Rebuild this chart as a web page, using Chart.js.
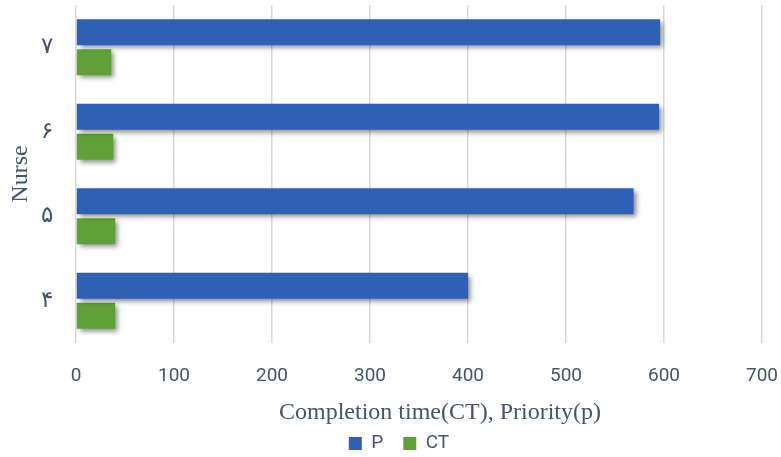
<!DOCTYPE html>
<html>
<head>
<meta charset="utf-8">
<script src="https://cdn.jsdelivr.net/npm/chart.js@4.4.1/dist/chart.umd.min.js"></script>
<style>
  body { margin: 0; background: #fff; }
  #wrap { width: 781px; height: 457px; position: relative; }
</style>
</head>
<body>
<div id="wrap"><canvas id="myChart"></canvas></div>
<script>
// datos (de arriba hacia abajo)
const nurses = ["۷", "۶", "۵", "۴"];
const priorityP = [596, 595, 569, 400];
const completionCT = [36, 38, 40, 40];
const xTicks = [0, 100, 200, 300, 400, 500, 600, 700];

const textColor = "#44546a";
const sans = "'Roboto', 'Liberation Sans', sans-serif";
const serif = "'Liberation Serif', 'DejaVu Serif', serif";

// sombra debajo de las barras
const barShadow = {
  id: "barShadow",
  beforeDatasetsDraw(chart) {
    const ctx = chart.ctx;
    ctx.save();
    ctx.shadowColor = "rgba(0,0,0,0.45)";
    ctx.shadowBlur = 5;
    ctx.shadowOffsetX = 3;
    ctx.shadowOffsetY = 3;
  },
  afterDatasetsDraw(chart) {
    chart.ctx.restore();
  },
};

// alto fijo de la leyenda y pequeños desplazamientos como en el original
const legendTweak = {
  id: "legendTweak",
  beforeInit(chart) {
    const legend = chart.legend;
    const origFit = legend.fit;
    legend.fit = function () {
      origFit.bind(legend)();
      this.height = 41;
    };
    const origDraw = legend.draw;
    legend.draw = function () {
      chart.ctx.save();
      chart.ctx.translate(18, 0);
      origDraw.call(legend);
      chart.ctx.restore();
    };
  },
  afterLayout(chart) {
    const xs = chart.scales.x;
    if (xs && !xs._titleShifted) {
      const origTitle = xs.drawTitle;
      xs.drawTitle = function () {
        chart.ctx.save();
        chart.ctx.translate(21, 0);
        origTitle.call(xs);
        chart.ctx.restore();
      };
      xs._titleShifted = true;
    }
  },
};

const ctx = document.getElementById("myChart").getContext("2d");
new Chart(ctx, {
  type: "bar",
  data: {
    labels: nurses,
    datasets: [
      {
        label: "P",
        data: priorityP,
        backgroundColor: "#2e60b6",
        categoryPercentage: 0.71,
        barPercentage: 0.87,
      },
      {
        label: "CT",
        data: completionCT,
        backgroundColor: "#5fa136",
        categoryPercentage: 0.71,
        barPercentage: 0.87,
      },
    ],
  },
  plugins: [barShadow, legendTweak],
  options: {
    indexAxis: "y",
    responsive: true,
    maintainAspectRatio: false,
    animation: false,
    layout: { padding: { top: 5, right: 19, left: 0, bottom: 2 } },
    plugins: {
      tooltip: { enabled: false },
      legend: {
        position: "bottom",
        labels: {
          color: textColor,
          font: { family: sans, size: 19 },
          boxWidth: 13,
          boxHeight: 13,
          padding: 20,
        },
      },
    },
    scales: {
      x: {
        min: 0,
        max: 700,
        afterBuildTicks: (scale) => {
          scale.ticks = xTicks.map((v) => ({ value: v }));
        },
        afterFit: (scale) => {
          scale.height = 71;
          scale.paddingLeft = 0;
          scale.paddingRight = 0;
        },
        grid: { color: "#d9d9d9", lineWidth: 1.5, drawTicks: false },
        border: { display: false },
        ticks: {
          color: textColor,
          font: { family: sans, size: 19 },
          padding: 22,
        },
        title: {
          display: true,
          text: "Completion time(CT), Priority(p)",
          color: textColor,
          font: { family: serif, size: 24 },
          padding: { top: 0, bottom: -13 },
        },
      },
      y: {
        afterFit: (scale) => {
          scale.width = 76;
          scale.paddingTop = 0;
          scale.paddingBottom = 0;
        },
        grid: { display: false },
        border: { display: false },
        ticks: {
          color: textColor,
          font: { family: serif, size: 23 },
          padding: 15,
        },
        title: {
          display: true,
          text: "Nurse",
          color: textColor,
          font: { family: serif, size: 24 },
          padding: { top: 6, bottom: 0 },
        },
      },
    },
  },
});
</script>
</body>
</html>
